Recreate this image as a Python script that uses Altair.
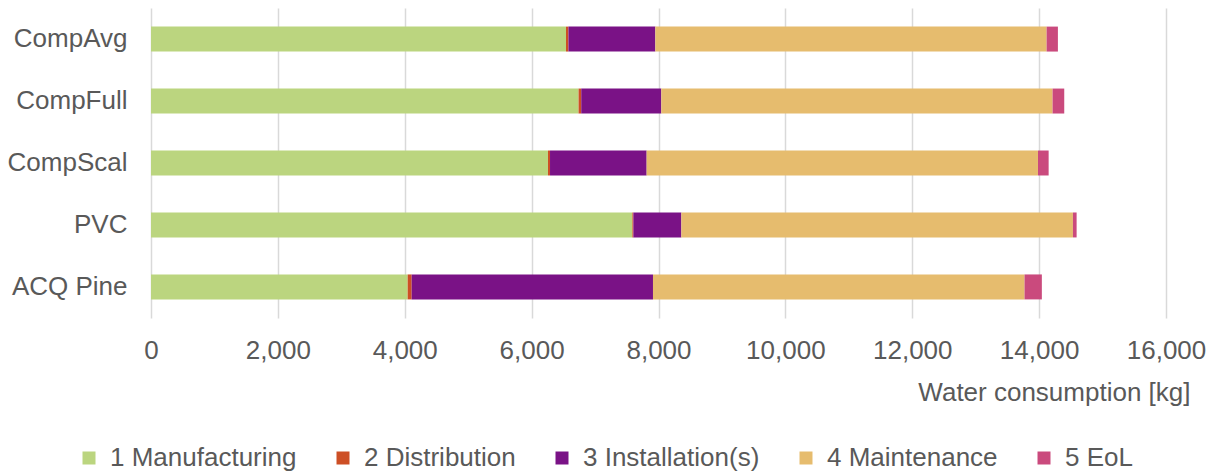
import altair as alt
import pandas as pd

products = ["CompAvg", "CompFull", "CompScal", "PVC", "ACQ Pine"]
phases = ["1 Manufacturing", "2 Distribution", "3 Installation(s)", "4 Maintenance", "5 EoL"]
colors = ["#BBD57F", "#CD4F25", "#7A1286", "#E6BC6E", "#CA4A7D"]

manufacturing = [6542, 6740, 6258, 7588, 4046]
distribution = [38, 42, 32, 16, 63]
installation = [1370, 1262, 1523, 756, 3804]
maintenance = [6168, 6168, 6169, 6173, 5857]
eol = [178, 184, 168, 58, 273]

series = [manufacturing, distribution, installation, maintenance, eol]
rows = []
for pi, (ph, vals) in enumerate(zip(phases, series)):
    for prod, v in zip(products, vals):
        rows.append({"Product": prod, "Phase": ph, "order": pi, "Value": v})
df = pd.DataFrame(rows)

FONT = "Liberation Sans"
GREY = "#595959"

chart = alt.Chart(df).mark_bar().encode(
    y=alt.Y("Product:N", sort=products,
            scale=alt.Scale(paddingInner=0.597, paddingOuter=0.3),
            axis=alt.Axis(title=None, domain=False, ticks=False, grid=False,
                          labelFont=FONT, labelFontSize=26, labelColor=GREY,
                          labelPadding=24)),
    x=alt.X("Value:Q", stack="zero",
            scale=alt.Scale(domain=[0, 16000], nice=False),
            axis=alt.Axis(values=list(range(0, 16001, 2000)), format=",.0f",
                          domain=False, ticks=False, grid=True,
                          gridColor="#D9D9D9", gridWidth=1.5,
                          labelFont=FONT, labelFontSize=26, labelColor=GREY,
                          labelPadding=19, labelFlush=False, labelOverlap=False,
                          title="Water consumption [kg]", titleFont=FONT,
                          titleFontSize=26, titleColor=GREY, titleFontWeight="normal",
                          titleAlign="right", titleAnchor=None,
                          titleX=1039, titleY=82, titleBaseline="alphabetic")),
    color=alt.Color("Phase:N", sort=phases,
                    scale=alt.Scale(domain=phases, range=colors),
                    legend=alt.Legend(title=None, orient="none", direction="horizontal",
                                      columns=5, legendX=-75, legendY=437,
                                      symbolType="square", symbolSize=169,
                                      symbolStrokeWidth=0, labelFont=FONT,
                                      labelFontSize=26, labelColor=GREY,
                                      labelLimit=0,
                                      labelOffset=8, columnPadding=33)),
    order=alt.Order("order:Q", sort="ascending"),
).properties(
    width=1015, height=310,
    autosize=alt.AutoSizeParams(type="none"),
    padding={"left": 151, "top": 8, "right": 48, "bottom": 157},
).configure_view(stroke=None)

chart.save("out.html", embed_options={"renderer": "svg", "actions": False})
